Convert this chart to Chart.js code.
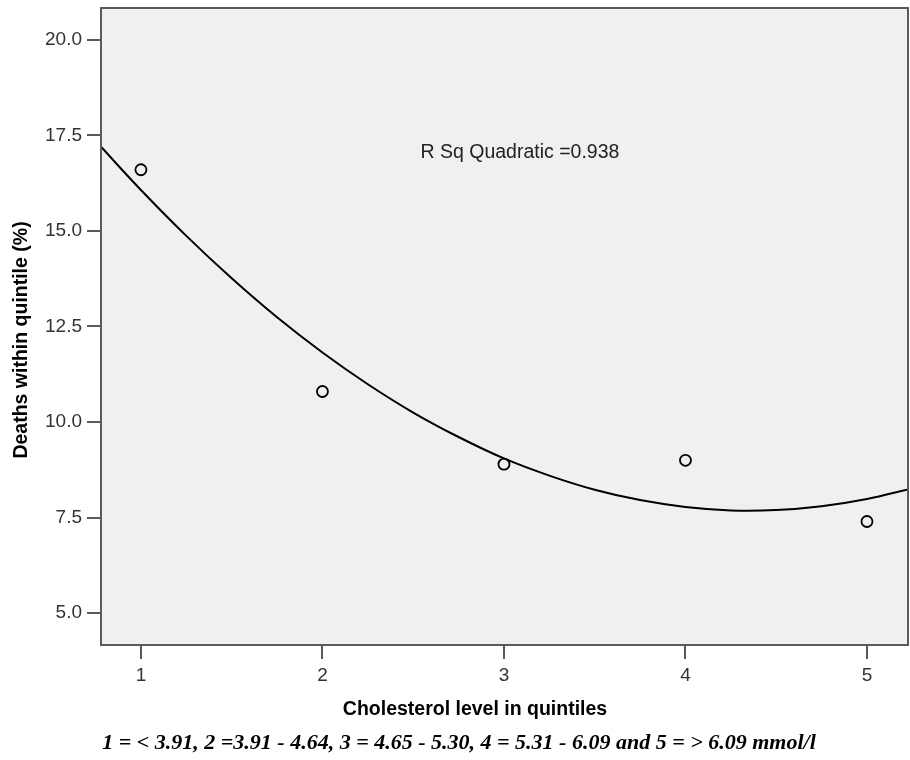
<!DOCTYPE html>
<html>
<head>
<meta charset="utf-8">
<script src="https://cdn.jsdelivr.net/npm/chart.js@4.4.0/dist/chart.umd.min.js"></script>
<style>
  html, body { margin: 0; padding: 0; background: #ffffff; }
  #wrap { width: 910px; height: 760px; }
</style>
</head>
<body>
<div id="wrap"><canvas id="myChart" width="910" height="760"></canvas></div>
<script>
// observed points, one per quintile
var quintiles = [1, 2, 3, 4, 5];
var deaths = [16.6, 10.8, 8.9, 9.0, 7.4];

// fitted quadratic curve
var curveX = [0.78, 1, 1.25, 1.5, 1.75, 2, 2.25, 2.5, 2.75, 3, 3.25, 3.5, 3.75, 4, 4.25, 4.5, 4.75, 5, 5.226];
var curveY = [17.2, 16.07, 14.87, 13.76, 12.74, 11.82, 10.99, 10.25, 9.61, 9.05, 8.6, 8.23, 7.96, 7.78, 7.69, 7.7, 7.8, 7.99, 8.24];

var xTicks = [1, 2, 3, 4, 5];
var yTicks = [5.0, 7.5, 10.0, 12.5, 15.0, 17.5, 20.0];

var xTitle = 'Cholesterol level in quintiles';
var yTitle = 'Deaths within quintile (%)';
var rSqLabel = 'R Sq Quadratic =0.938';
var caption = '1 = < 3.91, 2 =3.91 - 4.64, 3 = 4.65 - 5.30, 4 = 5.31 - 6.09 and 5 = > 6.09 mmol/l';

var sans = '"Liberation Sans", Arial, sans-serif';
var ctx = document.getElementById('myChart').getContext('2d');

var plotBox = {
    id: 'plotBox',
    beforeDraw: function (chart) {
        var a = chart.chartArea;
        var c = chart.ctx;
        c.save();
        c.fillStyle = '#f0f0f0';
        c.fillRect(a.left, a.top, a.right - a.left, a.bottom - a.top);
        c.restore();
    },
    afterDraw: function (chart) {
        var a = chart.chartArea;
        var c = chart.ctx;
        c.save();
        c.strokeStyle = '#5a5a5a';
        c.lineWidth = 2;
        c.strokeRect(a.left, a.top, a.right - a.left, a.bottom - a.top);

        // fit note inside the plot
        c.fillStyle = '#222222';
        c.font = '19.5px ' + sans;
        c.textAlign = 'left';
        c.textBaseline = 'middle';
        c.fillText(rSqLabel, chart.scales.x.getPixelForValue(2.54), chart.scales.y.getPixelForValue(17.05));

        // axis titles
        c.fillStyle = '#000000';
        c.font = 'bold 19.5px ' + sans;
        c.textAlign = 'center';
        c.fillText(xTitle, 475, 710);
        c.save();
        c.translate(22, 340);
        c.rotate(-Math.PI / 2);
        c.fillText(yTitle, 0, 0);
        c.restore();

        // caption under the x title
        c.font = 'bold italic 22px "Liberation Serif", "Times New Roman", serif';
        c.fillText(caption, 459, 743);
        c.restore();
    }
};

function noPad(scale) {
    scale.paddingTop = 0;
    scale.paddingBottom = 0;
    scale.paddingLeft = 0;
    scale.paddingRight = 0;
}

var myChart = new Chart(ctx, {
    type: 'scatter',
    data: {
        datasets: [{
            label: 'Quadratic',
            data: curveX.map(function (x, i) { return { x: x, y: curveY[i] }; }),
            showLine: true,
            borderColor: '#000000',
            borderWidth: 2,
            pointRadius: 0,
            tension: 0.4,
            fill: false
        }, {
            label: 'Observed',
            data: quintiles.map(function (x, i) { return { x: x, y: deaths[i] }; }),
            pointStyle: 'circle',
            pointRadius: 5.5,
            pointBorderWidth: 1.8,
            pointBorderColor: '#000000',
            pointBackgroundColor: 'rgba(0,0,0,0)'
        }]
    },
    options: {
        responsive: false,
        animation: false,
        layout: { autoPadding: false, padding: { left: 0, top: 8, right: 2, bottom: 0 } },
        plugins: {
            legend: { display: false },
            tooltip: { enabled: false }
        },
        scales: {
            x: {
                type: 'linear',
                min: 0.78,
                max: 5.226,
                afterBuildTicks: function (scale) {
                    scale.ticks = xTicks.map(function (v) { return { value: v }; });
                },
                afterFit: function (scale) { scale.height = 115; noPad(scale); },
                grid: { drawOnChartArea: false, drawTicks: true, tickLength: 14, color: '#5a5a5a', lineWidth: 2 },
                border: { display: true, color: '#5a5a5a', width: 2 },
                ticks: {
                    padding: 5,
                    color: '#333333',
                    font: { family: sans, size: 19 },
                    callback: function (v) { return v; }
                }
            },
            y: {
                type: 'linear',
                min: 4.17,
                max: 20.83,
                afterBuildTicks: function (scale) {
                    scale.ticks = yTicks.map(function (v) { return { value: v }; });
                },
                afterFit: function (scale) { scale.width = 101; noPad(scale); },
                grid: { drawOnChartArea: false, drawTicks: true, tickLength: 14, color: '#5a5a5a', lineWidth: 2 },
                border: { display: true, color: '#5a5a5a', width: 2 },
                ticks: {
                    padding: 5,
                    color: '#333333',
                    font: { family: sans, size: 19 },
                    callback: function (v) { return v.toFixed(1); }
                }
            }
        }
    },
    plugins: [plotBox]
});
</script>
</body>
</html>
